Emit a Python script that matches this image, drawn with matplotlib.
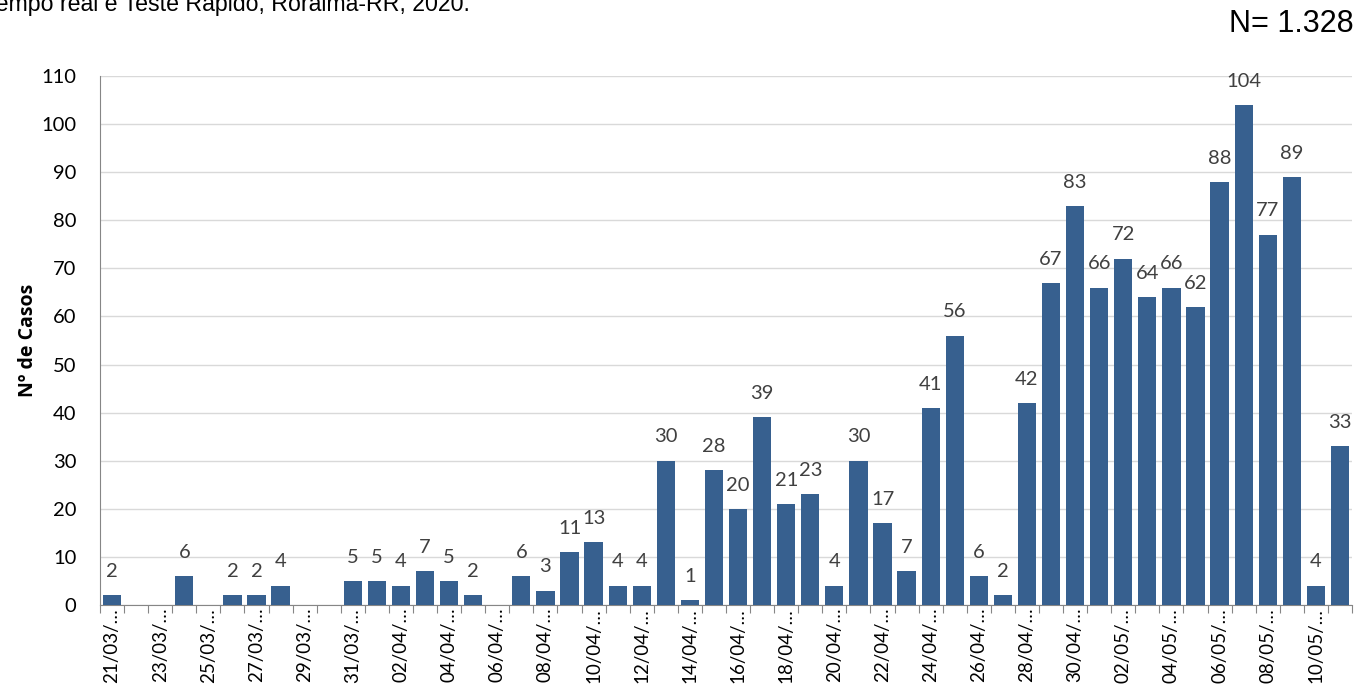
import matplotlib
matplotlib.use("Agg")
import matplotlib.pyplot as plt
import numpy as np
import datetime as dt

# Data
start = dt.date(2020, 3, 21)
dates = [start + dt.timedelta(days=i) for i in range(52)]
date_labels = [d.strftime("%d/%m/") + "\u2026" for d in dates]
casos = [2, 0, 0, 6, 0, 2, 2, 4, 0, 0, 5,
         5, 4, 7, 5, 2, 0, 6, 3, 11, 13, 4, 4, 30, 1, 28, 20, 39, 21, 23,
         4, 30, 17, 7, 41, 56, 6, 2, 42, 67, 83,
         66, 72, 64, 66, 62, 88, 104, 77, 89, 4, 33]
title_text = "Tempo real e Teste Rápido, Roraima-RR, 2020."
n_text = "N= 1.328"
ylabel = "Nº de Casos"

bar_color = "#37608F"
label_font = ["Lato", "DejaVu Sans"]

fig = plt.figure(figsize=(13.64, 6.89), dpi=100)
ax = fig.add_axes([100/1364, 1-605/689, (1352-100)/1364, (605-76)/689])

x = np.arange(len(casos))
bars = ax.bar(x, casos, width=0.76, color=bar_color, zorder=3)
for xi, v in zip(x, casos):
    if v > 0:
        ax.annotate(str(v), (xi, v), xytext=(0, 11), textcoords="offset points",
                    ha="center", va="bottom", fontsize=14.5, color="#404040",
                    family=label_font)

ax.set_xlim(-0.5, len(casos) - 0.5)
ax.set_ylim(0, 110)
ax.set_yticks(np.arange(0, 111, 10))
ax.yaxis.grid(True, color="#D9D9D9", linewidth=1, zorder=0)
ax.tick_params(axis="y", length=0, labelsize=14.5, pad=17, labelcolor="black")
for t in ax.get_yticklabels():
    t.set_family(label_font)

# x ticks: boundaries as major ticks, labels at every other bar
ax.set_xticks(np.arange(-0.5, len(casos), 1.0))
ax.set_xticklabels([])
ax.set_xticks(x[::2], minor=True)
ax.set_xticklabels([date_labels[i] for i in x[::2]], minor=True, rotation=90,
                   fontsize=13.5, family=label_font)
ax.tick_params(axis="x", which="major", length=6, color="#868686", direction="out")
ax.tick_params(axis="x", which="minor", length=0, pad=2)

for s in ["top", "right"]:
    ax.spines[s].set_visible(False)
ax.spines["left"].set_color("#868686")
ax.spines["bottom"].set_color("#868686")

ax.set_ylabel(ylabel, fontsize=14, fontweight="bold", family=["Open Sans", "DejaVu Sans"])
ax.yaxis.set_label_coords(-62/1252, 0.5)

fig.text(-16/1364, 1-11/689, title_text, fontsize=16.7, family="Liberation Sans",
         ha="left", va="baseline")
fig.text(1354/1364, 1-32/689, n_text, fontsize=22, family="Liberation Sans",
         ha="right", va="baseline")

fig.savefig("out.png", dpi=100)
